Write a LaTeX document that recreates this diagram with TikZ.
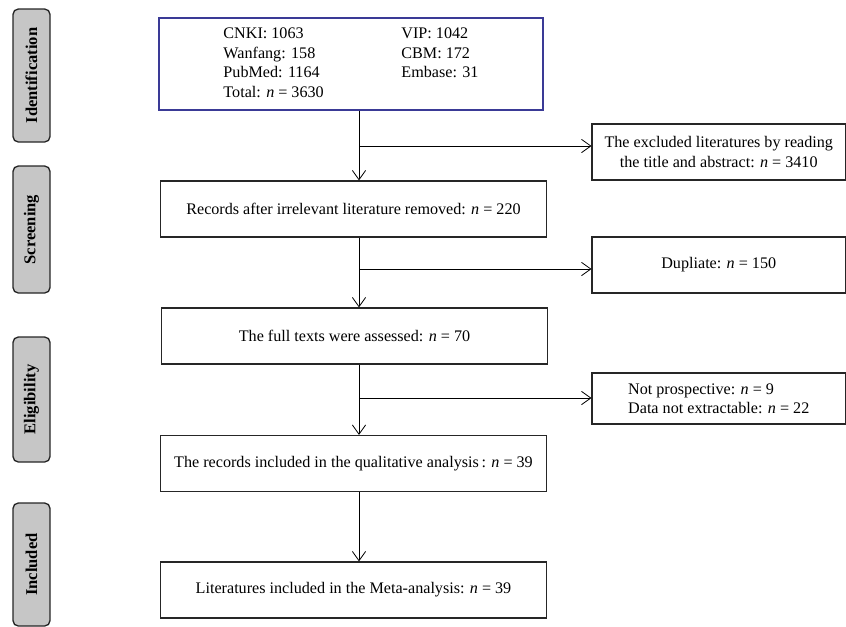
\documentclass[tikz,border=0pt]{standalone}
\usepackage{fontspec}
\setmainfont{Liberation Serif}
\usetikzlibrary{arrows.meta}
\definecolor{stagegray}{RGB}{198,198,198}
\definecolor{topblue}{RGB}{58,58,150}
\begin{document}
\begin{tikzpicture}[
  x=0.75pt, y=-0.75pt,
  font=\fontsize{12.1}{14.6}\selectfont,
  stage/.style={rectangle, rounded corners=4pt, draw=black!85, line width=1pt, fill=stagegray, rotate=90, minimum height=27.75pt, inner sep=0pt, font=\fontsize{12.4}{14}\selectfont\bfseries},
  rec/.style={rectangle, draw=black!85, line width=0.9pt, minimum width=290pt, minimum height=42pt, inner sep=2pt},
  excl/.style={rectangle, draw=black!85, line width=0.9pt, minimum width=190pt, minimum height=42pt, inner sep=2pt, align=center},
  arr/.style={-{Straight Barb[length=7pt,width=10pt]}, line width=0.6pt},
]
  \useasboundingbox (0,0) rectangle (846,626);
  \node[stage, minimum width=99.75pt] (Sid) at (31.5,75.5) {Identification};
  \node[stage, minimum width=95.25pt] (Ssc) at (31.5,229.5) {Screening};
  \node[stage, minimum width=93.75pt] (Sel) at (31.5,399.5) {Eligibility};
  \node[stage, minimum width=92.25pt] (Sin) at (31.5,564.5) {Included};
  \node[rec, draw=topblue, minimum height=69pt, minimum width=288pt] (db) at (351,64) {%
    \begin{tabular}{@{}p{133.5pt}@{}l@{}}
      CNKI: 1063 & VIP: 1042\\
      Wanfang: 158 & CBM: 172\\
      PubMed: 1164 & Embase: 31\\
      Total: \textit{n} = 3630 &
    \end{tabular}};
  \node[rec] (rel) at (353.5,209) {Records after irrelevant literature removed: \textit{n} = 220};
  \node[rec] (full) at (354.5,336) {The full texts were assessed: \textit{n} = 70};
  \node[rec] (qual) at (353.5,463.5) {The records included in the qualitative analysis\,: \textit{n} = 39};
  \node[rec] (meta) at (353.5,590) {Literatures included in the Meta-analysis: \textit{n} = 39};
  \node[excl] (ex1) at (718.75,152) {The excluded literatures by reading\\the title and abstract: \textit{n} = 3410};
  \node[excl] (ex2) at (718.75,265) {Dupliate: \textit{n} = 150};
  \node[excl, minimum height=38.25pt, align=left] (ex3) at (718.75,398.5) {Not prospective: \textit{n} = 9\\Data not extractable: \textit{n} = 22};
  \coordinate (sp) at (359,0);
  \coordinate (b1) at (359,146);
  \coordinate (b2) at (359,269);
  \coordinate (b3) at (359,398);
  \draw[arr] (db.south -| sp) -- (rel.north -| sp);
  \draw[arr] (rel.south -| sp) -- (full.north -| sp);
  \draw[arr] (full.south -| sp) -- (qual.north -| sp);
  \draw[arr] (qual.south -| sp) -- (meta.north -| sp);
  \draw[arr] (b1) -- (b1 -| ex1.west);
  \draw[arr] (b2) -- (b2 -| ex2.west);
  \draw[arr] (b3) -- (b3 -| ex3.west);
\end{tikzpicture}
\end{document}
